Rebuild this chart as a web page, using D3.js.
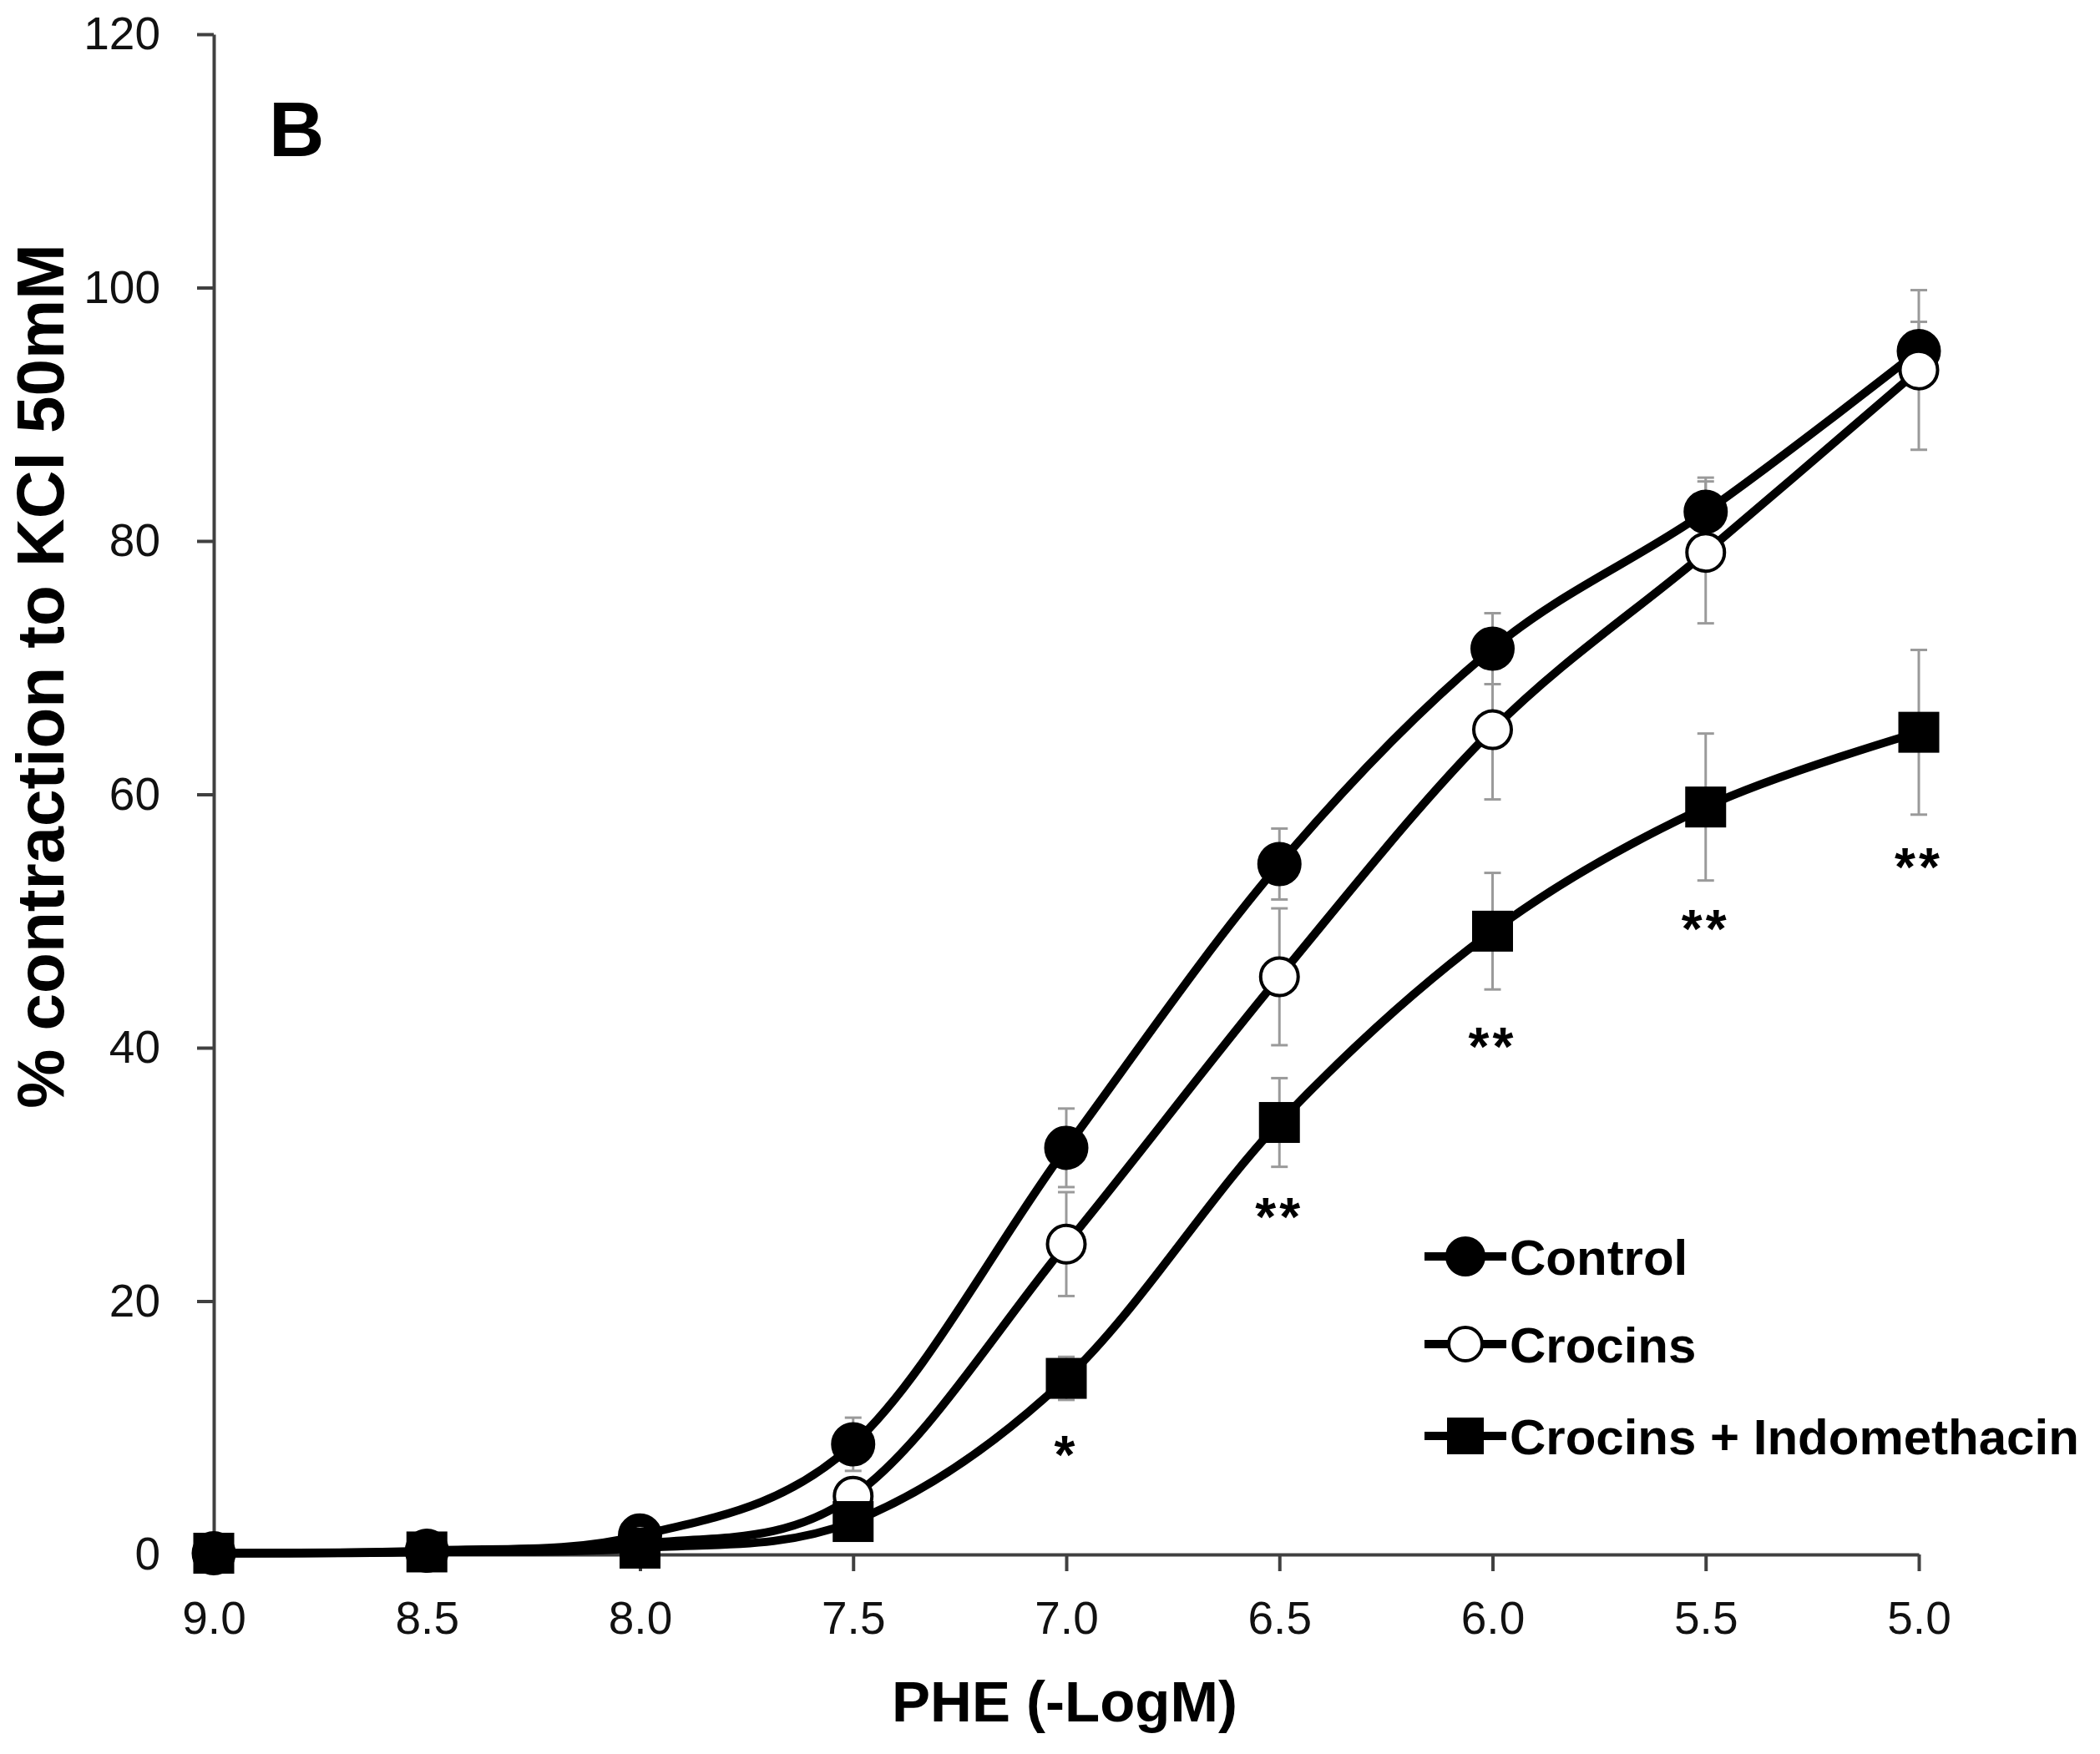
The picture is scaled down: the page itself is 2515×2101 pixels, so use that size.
<!DOCTYPE html>
<html lang="en">
<head>
  <meta charset="UTF-8">
  <title>PHE concentration-response, panel B</title>
  <script src="https://d3js.org/d3.v7.min.js"></script>
  <style>
    body { margin: 0; background: #fff; }
    svg { display: block; font-family: "Liberation Sans", Arial, sans-serif; }
  </style>
</head>
<body>
  <svg width="2515" height="2101"></svg>

  <script>
    // PHE concentration (-LogM)
    const doses = [9.0, 8.5, 8.0, 7.5, 7.0, 6.5, 6.0, 5.5, 5.0];

    // mean % contraction to KCl 50mM
    const control = [0.1, 0.3, 1.5, 8.7, 32.1, 54.5, 71.5, 82.3, 95.0];
    const crocins = [0.1, 0.2, 0.8, 4.6, 24.5, 45.6, 65.1, 79.1, 93.5];
    const crocinsIndo = [0.1, 0.2, 0.5, 2.6, 13.9, 34.1, 49.2, 59.0, 64.9];

    // SEM
    const controlErr = [0, 0, 0.4, 2.1, 3.1, 2.8, 2.8, 2.7, 2.3];
    const crocinsErr = [0, 0, 0.3, 0.9, 4.1, 5.4, 5.5, 5.6, 6.3];
    const crocinsIndoErr = [0, 0, 0.3, 0.8, 1.7, 3.5, 4.6, 5.8, 6.5];

    // significance marks under Crocins + Indomethacin
    const sigDoses = [7.0, 6.5, 6.0, 5.5, 5.0];
    const sigLevel = [8.9, 27.7, 41.1, 50.4, 55.3];
    const sigText = ["*", "**", "**", "**", "**"];

    const xTicks = [9.0, 8.5, 8.0, 7.5, 7.0, 6.5, 6.0, 5.5, 5.0];
    const yTicks = [0, 20, 40, 60, 80, 100, 120];

    const seriesNames = ["Control", "Crocins", "Crocins + Indomethacin"];
    const seriesValues = [control, crocins, crocinsIndo];
    const seriesErrors = [controlErr, crocinsErr, crocinsIndoErr];
    const seriesMarker = ["dot", "ring", "square"];

    const svg = d3.select("svg");

    const x = d3.scaleLinear().domain([9, 5]).range([256, 2298]);
    const y = d3.scaleLinear().domain([0, 120]).range([1862, 41]);

    const axisColor = "#404040";

    // axes
    const gx = svg.append("g")
      .attr("transform", `translate(0,${y(0)})`)
      .call(d3.axisBottom(x).tickValues(xTicks).tickFormat(d3.format(".1f"))
        .tickSize(20).tickSizeOuter(0).tickPadding(36));

    const gy = svg.append("g")
      .attr("transform", `translate(${x(9)},0)`)
      .call(d3.axisLeft(y).tickValues(yTicks).tickSize(20).tickSizeOuter(0).tickPadding(44));

    [gx, gy].forEach(g => {
      g.select(".domain").attr("stroke", axisColor).attr("stroke-width", 4);
      g.selectAll(".tick line").attr("stroke", axisColor).attr("stroke-width", 4);
      g.selectAll(".tick text")
        .attr("fill", "#111")
        .style("font-family", "'Liberation Sans', Arial, sans-serif")
        .style("font-size", "55px");
    });

    // axis titles
    svg.append("text")
      .attr("x", 1275).attr("y", 2062)
      .attr("text-anchor", "middle")
      .style("font-size", "69px").style("font-weight", "bold")
      .text("PHE (-LogM)");

    svg.append("text")
      .attr("transform", "translate(76,810) rotate(-90)")
      .attr("text-anchor", "middle")
      .style("font-size", "80px").style("font-weight", "bold")
      .text("% contraction to KCl 50mM");

    svg.append("text")
      .attr("x", 322).attr("y", 187)
      .style("font-size", "92px").style("font-weight", "bold")
      .text("B");

    // error bars
    const capHalf = 10;
    seriesValues.forEach((vals, s) => {
      const errs = seriesErrors[s];
      const g = svg.append("g").attr("stroke", "#9a9a9a").attr("stroke-width", 3);
      doses.forEach((d, i) => {
        if (!errs[i]) return;
        const cx = x(d), lo = y(vals[i] - errs[i]), hi = y(vals[i] + errs[i]);
        g.append("line").attr("x1", cx).attr("x2", cx).attr("y1", lo).attr("y2", hi);
        g.append("line").attr("x1", cx - capHalf).attr("x2", cx + capHalf).attr("y1", lo).attr("y2", lo);
        g.append("line").attr("x1", cx - capHalf).attr("x2", cx + capHalf).attr("y1", hi).attr("y2", hi);
      });
    });

    // smoothed lines
    const line = d3.line()
      .x(p => x(p[0]))
      .y(p => y(p[1]))
      .curve(d3.curveCardinal.tension(0));

    seriesValues.forEach(vals => {
      svg.append("path")
        .datum(doses.map((d, i) => [d, vals[i]]))
        .attr("fill", "none")
        .attr("stroke", "#000")
        .attr("stroke-width", 10)
        .attr("d", line);
    });

    // markers
    const r = 24.5;
    function drawMarker(g, type, cx, cy, rad) {
      if (type === "square") {
        g.append("rect")
          .attr("x", cx - rad).attr("y", cy - rad)
          .attr("width", rad * 2).attr("height", rad * 2)
          .attr("fill", "#000");
      } else {
        g.append("circle")
          .attr("cx", cx).attr("cy", cy).attr("r", type === "ring" ? rad - 2 : rad)
          .attr("fill", type === "ring" ? "#fff" : "#000")
          .attr("stroke", "#000").attr("stroke-width", 4);
      }
    }

    seriesValues.forEach((vals, s) => {
      const g = svg.append("g");
      doses.forEach((d, i) => drawMarker(g, seriesMarker[s], x(d), y(vals[i]), r));
    });

    // significance asterisks
    svg.append("g").selectAll("text")
      .data(sigDoses)
      .join("text")
      .attr("x", d => x(d))
      .attr("y", (d, i) => y(sigLevel[i]) + 38)
      .attr("text-anchor", "middle")
      .style("font-size", "64px").style("font-weight", "bold")
      .style("letter-spacing", "4px")
      .text((d, i) => sigText[i]);

    // legend
    const legendRows = [1505, 1610, 1720];
    const legend = svg.append("g");
    seriesNames.forEach((name, s) => {
      const ly = legendRows[s];
      legend.append("line")
        .attr("x1", 1706).attr("x2", 1804)
        .attr("y1", ly).attr("y2", ly)
        .attr("stroke", "#000").attr("stroke-width", 10);
      drawMarker(legend, seriesMarker[s], 1755, ly, 22);
      legend.append("text")
        .attr("x", 1808).attr("y", ly + 22)
        .style("font-size", "60px").style("font-weight", "bold")
        .text(name);
    });
  </script>
</body>
</html>
